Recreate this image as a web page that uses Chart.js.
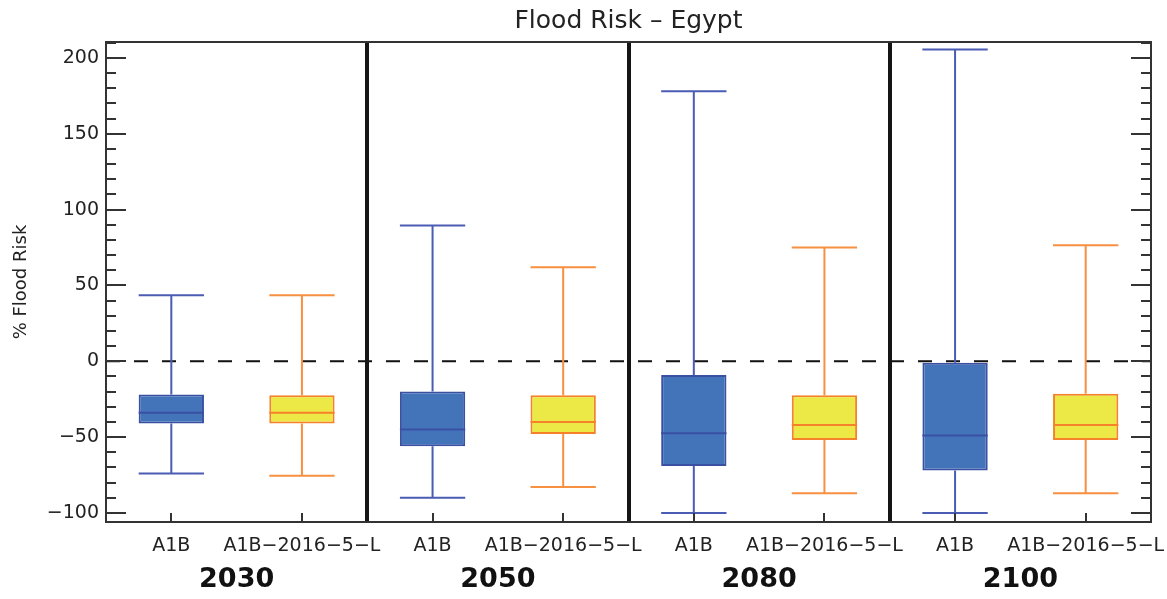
<!DOCTYPE html>
<html lang="en">
<head>
<meta charset="UTF-8">
<title>Flood Risk – Egypt</title>
<script src="https://cdn.jsdelivr.net/npm/chart.js"></script>
<style>
  body { margin: 0; background: #fff; }
  #wrap { width: 1167px; height: 599px; }
</style>
</head>
<body>
<div id="wrap"><canvas id="floodChart"></canvas></div>
<script>
// time slices and scenarios (two boxes per year)
const years = ['2030', '2050', '2080', '2100'];
const scenarios = ['A1B', 'A1B−2016−5−L'];

// A1B: % change in flood risk
const a1bMin = [-74, -90, -100, -100];
const a1bQ1 = [-41, -56, -69, -72];
const a1bMed = [-34, -45, -47.5, -49];
const a1bQ3 = [-22, -20, -9, -1];
const a1bMax = [43.5, 89.5, 178, 205.5];

// A1B-2016-5-L: % change in flood risk
const lowMin = [-75.5, -83, -87, -87];
const lowQ1 = [-41, -48, -52, -52];
const lowMed = [-34, -40, -42, -42];
const lowQ3 = [-22.5, -22.5, -22.5, -21.5];
const lowMax = [43.5, 62, 75, 76.5];

// y axis range and tick step
const yMin = -106;
const yMax = 210.5;
const yStep = 10;
const yLabelStep = 50;

const seriesMin = [a1bMin, lowMin];
const seriesQ1 = [a1bQ1, lowQ1];
const seriesMed = [a1bMed, lowMed];
const seriesQ3 = [a1bQ3, lowQ3];
const seriesMax = [a1bMax, lowMax];

const fillColors = ['#4374ba', '#ece845'];
const edgeColors = ['#3a50a3', '#f5822a'];
const whiskerColors = ['#4a5cb3', '#f79040'];

// one entry per box: year-major, scenario-minor
const labels = [];
const boxes = [];
years.forEach((yr, g) => {
  scenarios.forEach((sc, s) => {
    labels.push(sc);
    boxes.push([seriesQ1[s][g], seriesQ3[s][g]]);
  });
});

const minus = (v) => String(v).replace('-', '−');

const boxExtras = {
  id: 'boxExtras',
  beforeDatasetsDraw(chart) {
    const { ctx, chartArea: a, scales: { x, y } } = chart;
    ctx.save();
    // dashed zero line
    const y0 = y.getPixelForValue(0);
    ctx.strokeStyle = '#111';
    ctx.lineWidth = 2;
    ctx.setLineDash([14, 14]);
    ctx.beginPath();
    ctx.moveTo(a.left, y0);
    ctx.lineTo(a.right, y0);
    ctx.stroke();
    ctx.setLineDash([]);

    // whiskers and caps
    chart.getDatasetMeta(0).data.forEach((bar, i) => {
      const s = i % 2, g = Math.floor(i / 2);
      const half = bar.width / 2;
      const pMin = y.getPixelForValue(seriesMin[s][g]);
      const pMax = y.getPixelForValue(seriesMax[s][g]);
      const pQ1 = y.getPixelForValue(seriesQ1[s][g]);
      const pQ3 = y.getPixelForValue(seriesQ3[s][g]);
      ctx.strokeStyle = whiskerColors[s];
      ctx.lineWidth = 2;
      ctx.beginPath();
      ctx.moveTo(bar.x, pMax); ctx.lineTo(bar.x, pQ3);
      ctx.moveTo(bar.x, pQ1); ctx.lineTo(bar.x, pMin);
      ctx.moveTo(bar.x - half, pMax); ctx.lineTo(bar.x + half, pMax);
      ctx.moveTo(bar.x - half, pMin); ctx.lineTo(bar.x + half, pMin);
      ctx.stroke();
    });
    ctx.restore();
  },
  afterDatasetsDraw(chart) {
    const { ctx, scales: { y } } = chart;
    ctx.save();
    // medians
    chart.getDatasetMeta(0).data.forEach((bar, i) => {
      const s = i % 2, g = Math.floor(i / 2);
      const half = bar.width / 2;
      const pMed = y.getPixelForValue(seriesMed[s][g]);
      ctx.strokeStyle = edgeColors[s];
      ctx.lineWidth = 2;
      ctx.beginPath();
      ctx.moveTo(bar.x - half, pMed);
      ctx.lineTo(bar.x + half, pMed);
      ctx.stroke();
    });
    ctx.restore();
  },
  afterDraw(chart) {
    const { ctx, chartArea: a, scales: { x, y } } = chart;
    ctx.save();
    // year separators
    ctx.strokeStyle = '#151515';
    ctx.lineWidth = 4;
    ctx.beginPath();
    for (let g = 1; g < years.length; g++) {
      const px = Math.round(x.getPixelForValue(g * scenarios.length - 0.5));
      ctx.moveTo(px, a.top);
      ctx.lineTo(px, a.bottom);
    }
    ctx.stroke();

    // frame
    ctx.strokeStyle = '#333';
    ctx.lineWidth = 2;
    ctx.strokeRect(a.left, a.top, a.right - a.left, a.bottom - a.top);

    // inward y ticks on both sides
    ctx.beginPath();
    y.ticks.forEach((t) => {
      const py = Math.round(y.getPixelForValue(t.value));
      const len = t.value % yLabelStep === 0 ? 20 : 10;
      ctx.moveTo(a.left, py); ctx.lineTo(a.left + len, py);
      ctx.moveTo(a.right, py); ctx.lineTo(a.right - len, py);
    });
    // inward x ticks at each box
    x.ticks.forEach((t, i) => {
      const px = Math.round(x.getPixelForTick(i));
      ctx.moveTo(px, a.bottom); ctx.lineTo(px, a.bottom - 9);
    });
    ctx.stroke();
    ctx.restore();
  }
};

Chart.defaults.font.family = '"DejaVu Sans", sans-serif';
Chart.defaults.color = '#222';

new Chart(document.getElementById('floodChart'), {
  type: 'bar',
  data: {
    labels: labels,
    datasets: [{
      data: boxes,
      backgroundColor: (c) => fillColors[c.dataIndex % 2],
      borderColor: (c) => edgeColors[c.dataIndex % 2],
      borderWidth: 2,
      borderSkipped: false,
      barPercentage: 0.5,
      categoryPercentage: 1.0
    }]
  },
  options: {
    responsive: true,
    maintainAspectRatio: false,
    animation: false,
    layout: { padding: { left: 0, right: 16, top: 0, bottom: 0 } },
    plugins: {
      legend: { display: false },
      tooltip: { enabled: false },
      title: {
        display: true,
        text: 'Flood Risk – Egypt',
        fullSize: false,
        color: '#222',
        font: { size: 25, weight: 'normal' },
        padding: { top: 6, bottom: 6 }
      }
    },
    scales: {
      x: {
        type: 'category',
        offset: true,
        weight: 0,
        grid: { display: false, drawTicks: false },
        border: { display: false },
        ticks: {
          autoSkip: false,
          maxRotation: 0,
          minRotation: 0,
          padding: 13,
          font: { size: 19 }
        },
        afterFit: (s) => { s.height = 40; s.paddingLeft = 0; s.paddingRight = 0; }
      },
      x2: {
        type: 'category',
        labels: years,
        position: 'bottom',
        offset: true,
        weight: 1,
        grid: { display: false, drawTicks: false },
        border: { display: false },
        ticks: {
          autoSkip: false,
          maxRotation: 0,
          minRotation: 0,
          padding: 2,
          color: '#111',
          font: { size: 27, weight: 'bold' }
        },
        afterFit: (s) => { s.height = 37; s.paddingLeft = 0; s.paddingRight = 0; }
      },
      y: {
        min: yMin,
        max: yMax,
        grid: { display: false, drawTicks: false },
        border: { display: false },
        afterBuildTicks: (s) => {
          const ticks = [];
          for (let v = Math.ceil(yMin / yStep) * yStep; v <= yMax; v += yStep) ticks.push({ value: v });
          s.ticks = ticks;
        },
        ticks: {
          autoSkip: false,
          padding: 7,
          font: { size: 19 },
          callback: (v) => (v % yLabelStep === 0 ? minus(v) : '')
        },
        title: {
          display: true,
          text: '% Flood Risk',
          font: { size: 18 },
          padding: { top: 11, bottom: 0 }
        },
        afterFit: (s) => { s.width = 106; }
      }
    }
  },
  plugins: [boxExtras]
});
</script>
</body>
</html>
